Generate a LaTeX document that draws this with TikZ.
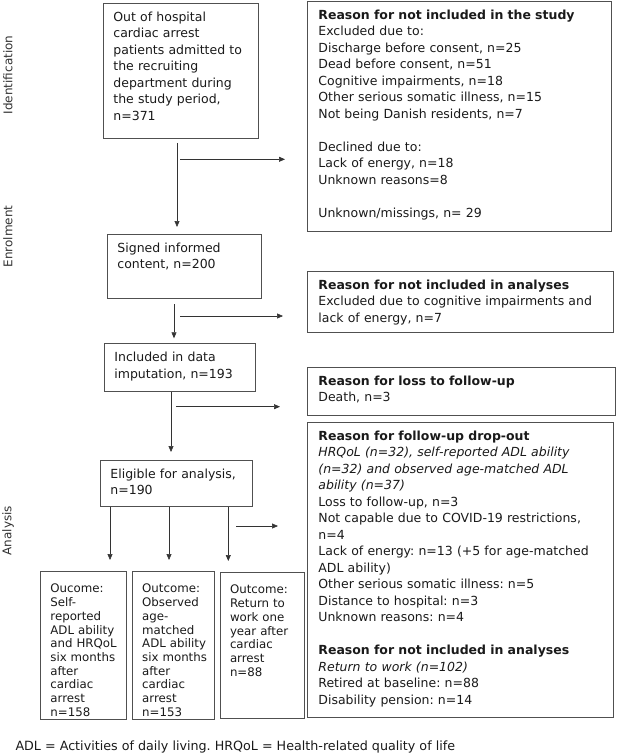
\documentclass[tikz,border=0pt]{standalone}
\usepackage{fontspec}
\setmainfont{DejaVu Sans}
\usepackage{tikz}
\usetikzlibrary{arrows.meta,positioning}
\definecolor{framegray}{HTML}{505050}
\definecolor{linegray}{HTML}{333333}
\definecolor{inkgray}{HTML}{1A1A1A}
\frenchspacing
\hyphenpenalty=10000

\begin{document}
\begin{tikzpicture}[
  x=1pt, y=1pt,
  box/.style={
    draw=framegray, line width=0.8pt, align=left, anchor=north west,
    inner xsep=10pt, inner ysep=8.5pt, text height=9.5pt, text=inkgray,
    font=\fontsize{12.5}{16.5}\selectfont
  },
  sidebox/.style={box, inner xsep=11pt},
  outbox/.style={box, inner ysep=7pt, text height=14.5pt,
    font=\fontsize{11.8}{13.7}\selectfont},
  phase/.style={rotate=90, text=black!80, font=\fontsize{12}{14}\selectfont},
  arrow/.style={-{Triangle[length=6pt,width=5pt]}, line width=0.6pt, linegray}
]
\useasboundingbox (0,0) rectangle (619,-754);

% phases
\node[phase] (lid) at (8,-75) {Identification};
\node[phase] (lenr) at (8,-236.5) {Enrolment};
\node[phase] (lana) at (8,-530.5) {Analysis};

% main column
\node[box, text width=135pt, text depth=108.5pt] (start) at (103,-3)
  {Out of hospital\\cardiac arrest\\patients admitted to\\the recruiting\\department during\\the study period,\\n=371};
\node[box, text width=134pt, text depth=37.5pt] (signed) at (107,-234)
  {Signed informed\\content, n=200};
\node[box, text width=131pt, text depth=21pt] (imput) at (104,-343.3)
  {Included in data\\imputation, n=193};
\node[box, text width=132pt, text depth=19.5pt] (elig) at (100,-460)
  {Eligible for analysis,\\n=190};

% outcomes
\node[outbox, text width=66pt, text depth=119.5pt] (outa) at (40,-571)
  {Oucome:\\Self-\\reported\\ADL~ability\\and~HRQoL\\six~months\\after\\cardiac\\arrest\\n=158};
\node[outbox, text width=62pt, text depth=119.5pt, anchor=west, right=5pt of outa] (outb)
  {Outcome:\\Observed\\age-\\matched\\ADL~ability\\six~months\\after\\cardiac\\arrest\\n=153};
\node[outbox, text width=64pt, text depth=117.5pt, anchor=west, right=5pt of outb] (outc)
  {Outcome:\\Return~to\\work~one\\year~after\\cardiac\\arrest\\n=88};

% exclusion column
\node[sidebox, text width=282pt, text depth=203.5pt] (excl1) at (307,-1)
  {\textbf{Reason for not included in the study}\\Excluded due to:\\Discharge before consent, n=25\\Dead before consent, n=51\\Cognitive impairments, n=18\\Other serious somatic illness, n=15\\Not being Danish residents, n=7\\[16.5pt]Declined due to:\\Lack of energy, n=18\\Unknown reasons=8\\[16.5pt]Unknown/missings, n= 29};
\node[sidebox, text width=284pt, text depth=34.5pt] (excl2) at (307,-271)
  {\textbf{Reason for not included in analyses}\\Excluded due to cognitive impairments and\\lack of energy, n=7};
\node[sidebox, text width=286pt, text depth=21.5pt] (loss) at (307,-367)
  {\textbf{Reason for loss to follow-up}\\Death, n=3};
\node[sidebox, text width=284pt, text depth=268.5pt] (drop) at (307,-422)
  {\textbf{Reason for follow-up drop-out}\\\textit{HRQoL (n=32), self-reported ADL ability}\\\textit{(n=32) and observed age-matched ADL}\\\textit{ability (n=37)}\\Loss to follow-up, n=3\\Not capable due to COVID-19 restrictions,\\n=4\\Lack of energy: n=13 (+5 for age-matched\\ADL ability)\\Other serious somatic illness: n=5\\Distance to hospital: n=3\\Unknown reasons: n=4\\[16.5pt]\textbf{Reason for not included in analyses}\\\textit{Return to work (n=102)}\\Retired at baseline: n=88\\Disability pension: n=14};

% footnote
\node[anchor=base west, text=inkgray, font=\fontsize{12.7}{15}\selectfont] (note) at (12,-750)
  {ADL = Activities of daily living. HRQoL = Health-related quality of life};

% flow
\coordinate (v1) at (177,-143);
\coordinate (v2) at (174,-304);
\coordinate (v3) at (171,-392);
\draw[arrow, shorten >=7pt] (v1) -- (v1 |- signed.north);
\draw[arrow, shorten >=5pt] (v2) -- (v2 |- imput.north);
\draw[arrow, shorten >=8pt] (v3) -- (v3 |- elig.north);
\foreach \dx/\target in {10/outa, 69/outb, 128.3/outc}
  \draw[arrow, shorten >=11pt] ([xshift=\dx pt]elig.south west) -- ([xshift=\dx pt]elig.south west |- \target.north);

% side arrows
\coordinate (h1) at (180,-159.3);
\coordinate (h2) at (180,-316);
\coordinate (h3) at (176,-406.7);
\coordinate (h4) at (236,-526);
\draw[arrow, shorten >=22pt] (h1) -- (h1 -| excl1.west);
\draw[arrow, shorten >=24pt] (h2) -- (h2 -| excl2.west);
\draw[arrow, shorten >=27pt] (h3) -- (h3 -| loss.west);
\draw[arrow, shorten >=29pt] (h4) -- (h4 -| drop.west);
\end{tikzpicture}
\end{document}
